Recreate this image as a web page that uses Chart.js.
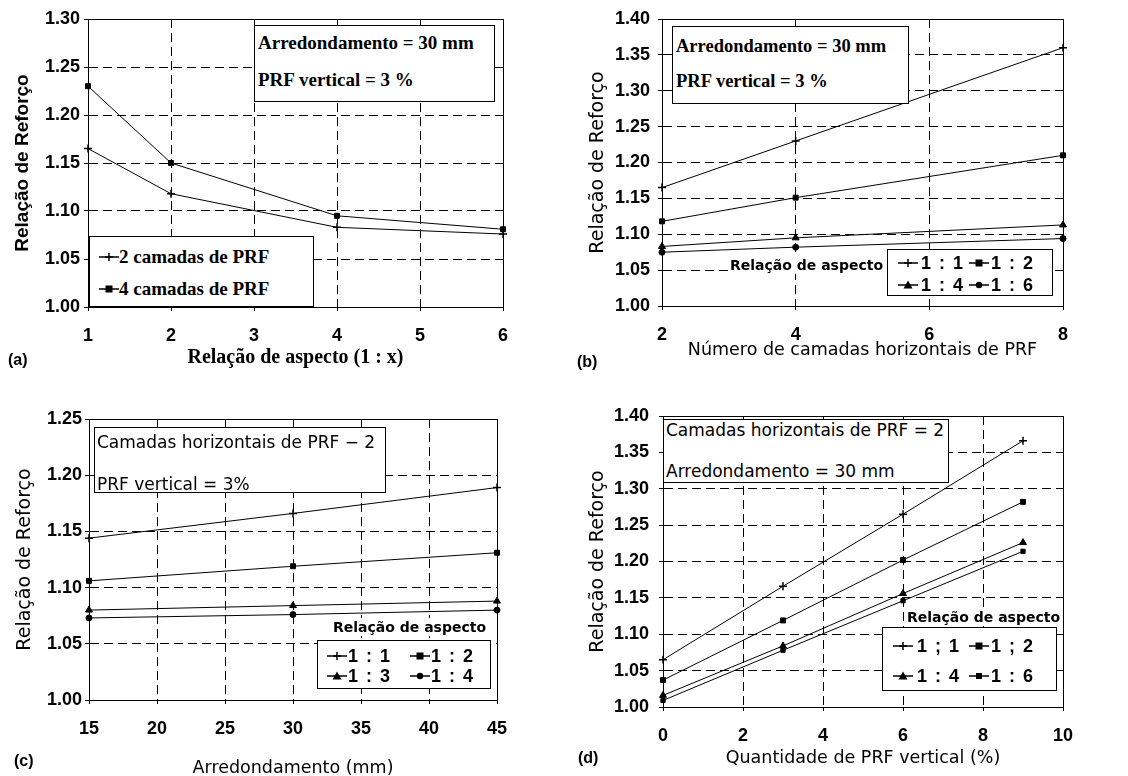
<!DOCTYPE html>
<html>
<head>
<meta charset="utf-8">
<script src="https://cdn.jsdelivr.net/npm/chart.js@4.4.0/dist/chart.umd.min.js"></script>
<style>
  body { margin: 0; width: 1128px; height: 776px; overflow: hidden; background: #fff; position: relative; }
  canvas { position: absolute; }
  .box { position: absolute; background: #fff; border: 1px solid #000; box-sizing: border-box; }
  .txt { position: absolute; white-space: nowrap; color: #000; }
  .serif { font-family: "Liberation Serif", "DejaVu Serif", serif; font-weight: bold; }
  .sans { font-family: "DejaVu Sans", sans-serif; }
  .key { font-family: "Liberation Sans", Arial, sans-serif; font-weight: bold; word-spacing: 3px; }
  .txt svg { vertical-align: middle; }
</style>
</head>
<body>
<canvas id="chartA" width="564" height="388" style="left:0;top:0"></canvas>
<canvas id="chartB" width="564" height="388" style="left:564px;top:0"></canvas>
<canvas id="chartC" width="564" height="400" style="left:0;top:388px"></canvas>
<canvas id="chartD" width="564" height="400" style="left:564px;top:388px"></canvas>

<script>
// (a) aspect ratio 1:x
const aspectX = [1, 2, 4, 6]
const a2Layers = [1.165, 1.118, 1.083, 1.076]
const a4Layers = [1.230, 1.150, 1.095, 1.081]
const aXTicks = [1, 2, 3, 4, 5, 6]
const aYTicks = [1.00, 1.05, 1.10, 1.15, 1.20, 1.25, 1.30]

// (b) horizontal PRF layers
const layersX = [2, 4, 8]
const b11 = [1.165, 1.230, 1.360]
const b12 = [1.118, 1.151, 1.210]
const b14 = [1.083, 1.095, 1.113]
const b16 = [1.075, 1.082, 1.094]
const bXTicks = [2, 4, 6, 8]
const bYTicks = [1.00, 1.05, 1.10, 1.15, 1.20, 1.25, 1.30, 1.35, 1.40]

// (c) rounding radius (mm)
const roundingX = [15, 30, 45]
const c11 = [1.144, 1.166, 1.189]
const c12 = [1.106, 1.119, 1.131]
const c13 = [1.080, 1.084, 1.088]
const c14 = [1.073, 1.076, 1.080]
const cXTicks = [15, 20, 25, 30, 35, 40, 45]
const cYTicks = [1.00, 1.05, 1.10, 1.15, 1.20, 1.25]

// (d) vertical PRF amount (%)
const verticalX = [0, 3, 6, 9]
const d11 = [1.065, 1.166, 1.265, 1.366]
const d12 = [1.037, 1.119, 1.202, 1.282]
const d14 = [1.016, 1.084, 1.156, 1.226]
const d16 = [1.009, 1.078, 1.146, 1.214]
const dXTicks = [0, 2, 4, 6, 8, 10]
const dYTicks = [1.00, 1.05, 1.10, 1.15, 1.20, 1.25, 1.30, 1.35, 1.40]

const styles = {
  cross: { pointStyle: "cross", pointRadius: 4, pointBorderWidth: 1.5 },
  rect: { pointStyle: "rect", pointRadius: 3.5, pointBorderWidth: 1 },
  smallRect: { pointStyle: "rect", pointRadius: 3, pointBorderWidth: 1 },
  triangle: { pointStyle: "triangle", pointRadius: 4, pointBorderWidth: 1 },
  circle: { pointStyle: "circle", pointRadius: 3, pointBorderWidth: 1 },
}

// solid frame around the plot area
const framePlugin = {
  id: "frame",
  beforeDatasetsDraw(chart) {
    const { ctx, chartArea: a } = chart
    ctx.save()
    ctx.strokeStyle = "#000"
    ctx.lineWidth = 1
    ctx.setLineDash([])
    ctx.strokeRect(Math.round(a.left) + 0.5, Math.round(a.top) + 0.5, Math.round(a.right - a.left), Math.round(a.bottom - a.top))
    ctx.restore()
  },
}

const tickFont = { family: "'Liberation Sans', Arial, sans-serif", size: 18, weight: "bold" }

function makeChart(id, p) {
  const canvas = document.getElementById(id)
  const W = canvas.width, H = canvas.height
  const xLh = p.xTitleFont.size * 1.2
  const yLh = p.yTitleFont.size * 1.2
  const xH = p.xTitleY + xLh / 2 - p.area.bottom

  new Chart(canvas, {
    type: "scatter",
    data: {
      datasets: p.series.map((s) => ({
        data: p.x.map((x, i) => ({ x: x, y: s.values[i] })),
        showLine: true,
        borderColor: "#000",
        backgroundColor: "#000",
        pointBorderColor: "#000",
        borderWidth: 1,
        clip: false,
        ...styles[s.marker],
      })),
    },
    options: {
      responsive: false,
      animation: false,
      events: [],
      layout: {
        padding: { left: 0, top: p.area.top, right: W - p.area.right, bottom: H - p.area.bottom - xH },
      },
      plugins: { legend: { display: false }, tooltip: { enabled: false } },
      scales: {
        x: {
          type: "linear",
          min: p.xTicks[0],
          max: p.xTicks[p.xTicks.length - 1],
          afterBuildTicks: (s) => { s.ticks = p.xTicks.map((v) => ({ value: v })) },
          afterFit: (s) => { s.height = xH },
          ticks: { font: tickFont, color: "#000", padding: p.xTickPad, maxRotation: 0, autoSkip: false, callback: (v) => String(v) },
          grid: { color: "#000", lineWidth: 1, tickLength: 4, tickColor: "#000" },
          border: { color: "#000", width: 1, dash: [9, 5] },
          title: { display: true, text: p.xTitle, font: p.xTitleFont, color: "#000", padding: { top: 0, bottom: 0 } },
        },
        y: {
          min: p.yTicks[0],
          max: p.yTicks[p.yTicks.length - 1],
          afterBuildTicks: (s) => { s.ticks = p.yTicks.map((v) => ({ value: v })) },
          afterFit: (s) => { s.width = p.area.left },
          ticks: { font: tickFont, color: "#000", padding: p.yTickPad, autoSkip: false, callback: (v) => v.toFixed(2) },
          grid: { color: "#000", lineWidth: 1, tickLength: 4, tickColor: "#000" },
          border: { color: "#000", width: 1, dash: [9, 5] },
          title: { display: true, text: "Relação de Reforço", font: p.yTitleFont, color: "#000", padding: { top: p.yTitleX - yLh / 2, bottom: 0 } },
        },
      },
    },
    plugins: [framePlugin],
  })
}

const serifTitle = { family: "'Liberation Serif', serif", size: 20, weight: "bold" }
const sansTitle = { family: "'DejaVu Sans', sans-serif", size: 17.5, weight: "normal" }
const sansYTitle = { family: "'DejaVu Sans', sans-serif", size: 19, weight: "normal" }

makeChart("chartA", {
  area: { left: 88, top: 19, right: 503, bottom: 307 },
  x: aspectX, xTicks: aXTicks, yTicks: aYTicks,
  series: [
    { values: a2Layers, marker: "cross" },
    { values: a4Layers, marker: "rect" },
  ],
  xTitle: "Relação de aspecto (1 : x)", xTitleFont: serifTitle, xTitleY: 358,
  yTitleFont: { family: "'Liberation Sans', Arial, sans-serif", size: 19, weight: "bold" }, yTitleX: 23,
  xTickPad: 14, yTickPad: 4,
})

makeChart("chartB", {
  area: { left: 98, top: 19, right: 499, bottom: 306 },
  x: layersX, xTicks: bXTicks, yTicks: bYTicks,
  series: [
    { values: b11, marker: "cross" },
    { values: b12, marker: "rect" },
    { values: b14, marker: "triangle" },
    { values: b16, marker: "circle" },
  ],
  xTitle: "Número de camadas horizontais de PRF", xTitleFont: sansTitle, xTitleY: 350,
  yTitleFont: sansYTitle, yTitleX: 34,
  xTickPad: 14, yTickPad: 8,
})

makeChart("chartC", {
  area: { left: 89, top: 31, right: 497, bottom: 312 },
  x: roundingX, xTicks: cXTicks, yTicks: cYTicks,
  series: [
    { values: c11, marker: "cross" },
    { values: c12, marker: "rect" },
    { values: c13, marker: "triangle" },
    { values: c14, marker: "circle" },
  ],
  xTitle: "Arredondamento (mm)", xTitleFont: sansTitle, xTitleY: 380,
  yTitleFont: sansYTitle, yTitleX: 25,
  xTickPad: 14, yTickPad: 3,
})

makeChart("chartD", {
  area: { left: 99, top: 28, right: 499, bottom: 319 },
  x: verticalX, xTicks: dXTicks, yTicks: dYTicks,
  series: [
    { values: d11, marker: "cross" },
    { values: d12, marker: "rect" },
    { values: d14, marker: "triangle" },
    { values: d16, marker: "smallRect" },
  ],
  xTitle: "Quantidade de PRF vertical (%)", xTitleFont: sansTitle, xTitleY: 370,
  yTitleFont: sansYTitle, yTitleX: 34,
  xTickPad: 14, yTickPad: 10,
})

// ---- overlay boxes, notes and keys ----
function box(left, top, w, h) {
  const el = document.createElement("div")
  el.className = "box"
  el.style.cssText = `left:${left}px;top:${top}px;width:${w}px;height:${h}px`
  document.body.appendChild(el)
}

function text(str, x, yc, cls, size, extra) {
  const el = document.createElement("div")
  const lh = Math.round(size * 1.25)
  el.className = "txt " + cls
  el.style.cssText = `left:${x}px;top:${yc - lh / 2}px;font-size:${size}px;line-height:${lh}px;${extra || ""}`
  el.innerHTML = str
  document.body.appendChild(el)
}

function markerSvg(shape) {
  let m = ""
  if (shape === "cross") m = '<path d="M10 2V10M6 6H14" stroke="#000" stroke-width="1.5"/>'
  if (shape === "rect") m = '<rect x="6.5" y="2.5" width="7" height="7" fill="#000"/>'
  if (shape === "smallRect") m = '<rect x="7" y="3" width="6" height="6" fill="#000"/>'
  if (shape === "triangle") m = '<path d="M10 1.5L14.5 9.5H5.5Z" fill="#000"/>'
  if (shape === "circle") m = '<circle cx="10" cy="6" r="3.2" fill="#000"/>'
  return `<svg width="20" height="12"><line x1="0" y1="6" x2="20" y2="6" stroke="#000" stroke-width="1.5"/>${m}</svg>`
}

function marker(shape, x, yc) {
  text(markerSvg(shape), x, yc, "", 12, "line-height:12px;height:12px")
}

// (a)
box(254, 25, 241, 77)
text("Arredondamento = 30 mm", 258, 43, "serif", 19)
text("PRF vertical = 3 %", 258, 80, "serif", 19)
box(89, 236, 225, 71)
marker("cross", 99, 257)
text("2 camadas de PRF", 119, 257, "serif", 19)
marker("rect", 99, 289)
text("4 camadas de PRF", 119, 289, "serif", 19)
text("(a)", 8, 360, "key", 16)

// (b)
box(672, 26, 237, 78)
text("Arredondamento = 30 mm", 676, 46, "serif", 18.5)
text("PRF vertical = 3 %", 676, 81, "serif", 18.5)
text("Relação de aspecto", 730, 265, "sans", 14, "font-weight:bold;background:#fff")
box(887, 249, 166, 47)
marker("cross", 898, 263)
text("1 : 1", 921, 263, "key", 18)
marker("rect", 969, 263)
text("1 : 2", 991, 263, "key", 18)
marker("triangle", 898, 285)
text("1 : 4", 921, 285, "key", 18)
marker("circle", 969, 285)
text("1 : 6", 991, 285, "key", 18)
text("(b)", 577, 362, "key", 16)

// (c)
box(94, 427, 292, 66)
text("Camadas horizontais de PRF − 2", 97, 442, "sans", 17)
text("PRF vertical = 3%", 97, 484, "sans", 17)
text("Relação de aspecto", 333, 627, "sans", 14, "font-weight:bold;background:#fff")
box(317, 640, 174, 49)
marker("cross", 327, 656)
text("1 : 1", 348, 656, "key", 18)
marker("rect", 410, 656)
text("1 : 2", 431, 656, "key", 18)
marker("triangle", 327, 676)
text("1 : 3", 348, 676, "key", 18)
marker("circle", 410, 676)
text("1 : 4", 431, 676, "key", 18)
text("(c)", 14, 761, "key", 16)

// (d)
box(663, 419, 286, 64)
text("Camadas horizontais de PRF = 2", 666, 430, "sans", 17)
text("Arredondamento = 30 mm", 666, 471, "sans", 17)
text("Relação de aspecto", 907, 617, "sans", 14, "font-weight:bold;background:#fff")
box(882, 627, 175, 64)
marker("cross", 893, 646)
text("1 ; 1", 917, 646, "key", 18)
marker("rect", 969, 646)
text("1 ; 2", 991, 646, "key", 18)
marker("triangle", 893, 676)
text("1 : 4", 917, 676, "key", 18)
marker("smallRect", 969, 676)
text("1 : 6", 991, 676, "key", 18)
text("(d)", 578, 758, "key", 16)
</script>
</body>
</html>
